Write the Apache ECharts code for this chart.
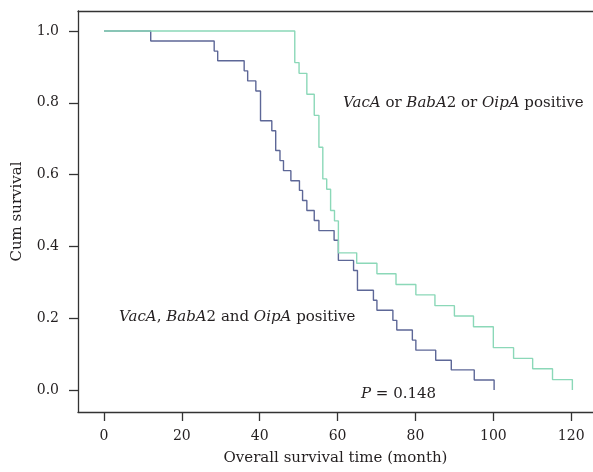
<!DOCTYPE html>
<html>
<head>
<meta charset="utf-8">
<script src="https://cdn.jsdelivr.net/npm/echarts@6/dist/echarts.min.js"></script>
<style>
html,body{margin:0;padding:0;background:#fff;}
#chart{width:593px;height:472px;}
</style>
</head>
<body>
<div id="chart"></div>
<script>
// Kaplan-Meier steps: [month, cumulative survival]
const allPositive = [
  [0, 1.0], [12.0, 0.972], [28.3, 0.944], [29.2, 0.917], [36.0, 0.889], [36.9, 0.861],
  [39.0, 0.833], [40.2, 0.750], [43.1, 0.722], [44.1, 0.667], [45.2, 0.639], [46.1, 0.611],
  [48.0, 0.583], [50.2, 0.556], [51.0, 0.528], [52.1, 0.500], [54.0, 0.472], [55.2, 0.444],
  [59.1, 0.417], [60.2, 0.361], [64.1, 0.333], [65.1, 0.278], [69.2, 0.250], [70.1, 0.222],
  [74.2, 0.194], [75.2, 0.167], [79.2, 0.139], [80.1, 0.111], [85.2, 0.083], [89.2, 0.056],
  [95.1, 0.028], [100.2, 0.0]
];
const anyPositive = [
  [0, 1.0], [49.0, 0.912], [50.1, 0.882], [52.1, 0.824], [54.0, 0.765], [55.2, 0.676],
  [56.2, 0.588], [57.2, 0.559], [58.2, 0.500], [59.2, 0.471], [60.2, 0.382], [64.9, 0.353],
  [70.1, 0.324], [75.0, 0.294], [80.1, 0.265], [85.0, 0.235], [90.0, 0.206], [94.9, 0.176],
  [100.0, 0.118], [105.2, 0.088], [110.1, 0.059], [115.2, 0.029], [120.3, 0.0]
];
const xTicks = [0, 20, 40, 60, 80, 100, 120];
const yTicks = [0, 0.2, 0.4, 0.6, 0.8, 1.0];
const xName = 'Overall survival time (month)';
const yName = 'Cum survival';
const label1 = '{i|VacA} or {i|BabA}2 or {i|OipA} positive';
const label2 = '{i|VacA}, {i|BabA}2 and {i|OipA} positive';
const pLabel = '{i|P} = 0.148';

const FONT = '"DejaVu Serif", "Liberation Serif", serif';
const TXT = '#231f20';
const AX = '#333333';

const chart = echarts.init(document.getElementById('chart'), null, {renderer: 'canvas'});
const richStyle = {
  i: {fontStyle: 'italic', fontFamily: FONT, fontSize: 15, fill: TXT},
};
chart.setOption({
  animation: false,
  backgroundColor: '#fff',
  grid: {left: 78, top: 11, right: 0, bottom: 60},
  xAxis: [{
    type: 'value', min: -6.68, max: 125.6, position: 'bottom',
    name: xName, nameLocation: 'middle', nameGap: 39,
    nameTextStyle: {fontFamily: FONT, fontSize: 15, color: TXT},
    axisLine: {show: true, onZero: false, lineStyle: {color: AX, width: 1.3}},
    axisTick: {show: true, length: 9, customValues: xTicks, lineStyle: {color: AX, width: 1.3}},
    axisLabel: {customValues: xTicks, margin: 17, fontFamily: FONT, fontSize: 14, color: TXT},
    splitLine: {show: false}
  }, {
    type: 'value', min: -6.68, max: 125.6, position: 'top',
    axisLine: {show: true, onZero: false, lineStyle: {color: AX, width: 1.3}},
    axisTick: {show: false}, axisLabel: {show: false}, splitLine: {show: false}
  }],
  yAxis: {
    type: 'value', min: -0.0613, max: 1.0557,
    name: yName, nameLocation: 'middle', nameGap: 53, nameRotate: 90,
    nameTextStyle: {fontFamily: FONT, fontSize: 15, color: TXT},
    axisLine: {show: true, onZero: false, lineStyle: {color: AX, width: 1.3}},
    axisTick: {show: true, length: 9, customValues: yTicks, lineStyle: {color: AX, width: 1.3}},
    axisLabel: {customValues: yTicks, margin: 19, fontFamily: FONT, fontSize: 14, color: TXT,
      formatter: v => v.toFixed(1)},
    splitLine: {show: false}
  },
  series: [{
    type: 'line', step: 'end', data: allPositive, showSymbol: false, symbol: 'none',
    lineStyle: {color: '#5d6797', width: 1.4}, itemStyle: {color: '#5d6797'}
  }, {
    type: 'line', step: 'end', data: anyPositive, showSymbol: false, symbol: 'none',
    lineStyle: {color: '#8bd8b8', width: 1.4}, itemStyle: {color: '#8bd8b8'}
  }],
  graphic: [{
    type: 'text', x: 343, y: 103,
    style: {text: label1, font: '15px ' + FONT, fill: TXT, textVerticalAlign: 'middle', rich: richStyle}
  }, {
    type: 'text', x: 119, y: 317,
    style: {text: label2, font: '15px ' + FONT, fill: TXT, textVerticalAlign: 'middle', rich: richStyle}
  }, {
    type: 'text', x: 361, y: 394,
    style: {text: pLabel, font: '15px ' + FONT, fill: TXT, textVerticalAlign: 'middle', rich: richStyle}
  }]
});
</script>
</body>
</html>
